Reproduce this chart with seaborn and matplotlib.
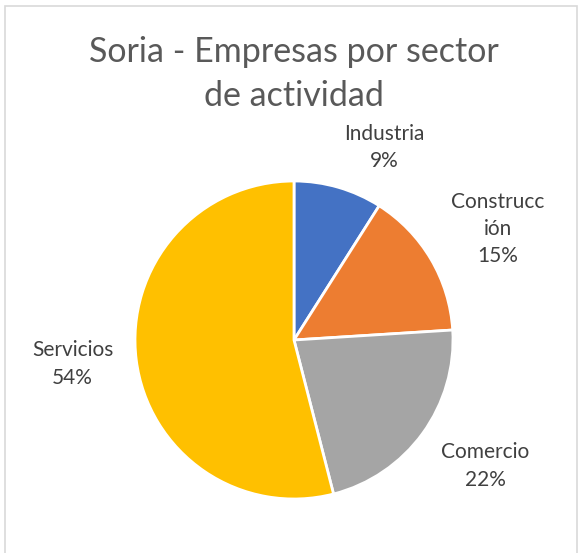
import numpy as np
import matplotlib
matplotlib.use("Agg")
import matplotlib.pyplot as plt
import seaborn as sns
from matplotlib.patches import Rectangle

sns.set_theme(style="white")
plt.rcParams['font.family'] = ['Lato', 'DejaVu Sans']

# Data
sectores = ['Industria', 'Construcc\nión', 'Comercio', 'Servicios']
porcentajes = [9, 15, 22, 54]
colores = ['#4472C4', '#ED7D31', '#A5A5A5', '#FFC000']

W, H = 579, 553
fig = plt.figure(figsize=(W / 100, H / 100), dpi=100)

# Chart border (Excel style)
fig.patches.append(Rectangle((5 / W, -0.02), (W - 7) / W, (H - 6) / H + 0.02,
                             transform=fig.transFigure, fill=False,
                             edgecolor='#D9D9D9', linewidth=1.2))

cx, cy, r = 294, 553 - 340, 159
ax = fig.add_axes([(cx - r) / W, (cy - r) / H, 2 * r / W, 2 * r / H])
wedges, _ = ax.pie(porcentajes, colors=colores, startangle=90, counterclock=False,
                   radius=1, wedgeprops=dict(edgecolor='white', linewidth=2))
ax.set_xlim(-1, 1)
ax.set_ylim(-1, 1)
ax.set_aspect('equal')
ax.axis('off')

# Data labels, placed around the pie
dist = [1.34, 1.46, 1.44, 1.40]
shift = [-9, -2, 2.6, -1]
for w, lab, p, d, s in zip(wedges, sectores, porcentajes, dist, shift):
    ang = np.deg2rad((w.theta1 + w.theta2) / 2 + s)
    ax.text(d * np.cos(ang), d * np.sin(ang), f"{lab}\n{p}%", ha='center', va='center',
            fontsize=15, color='#404040', linespacing=1.45, clip_on=False)

fig.text(0.508, 0.866, "Soria - Empresas por sector\nde actividad", ha='center', va='center',
         fontsize=24.5, color='#595959', linespacing=1.45)

fig.savefig("out.png", dpi=100)
